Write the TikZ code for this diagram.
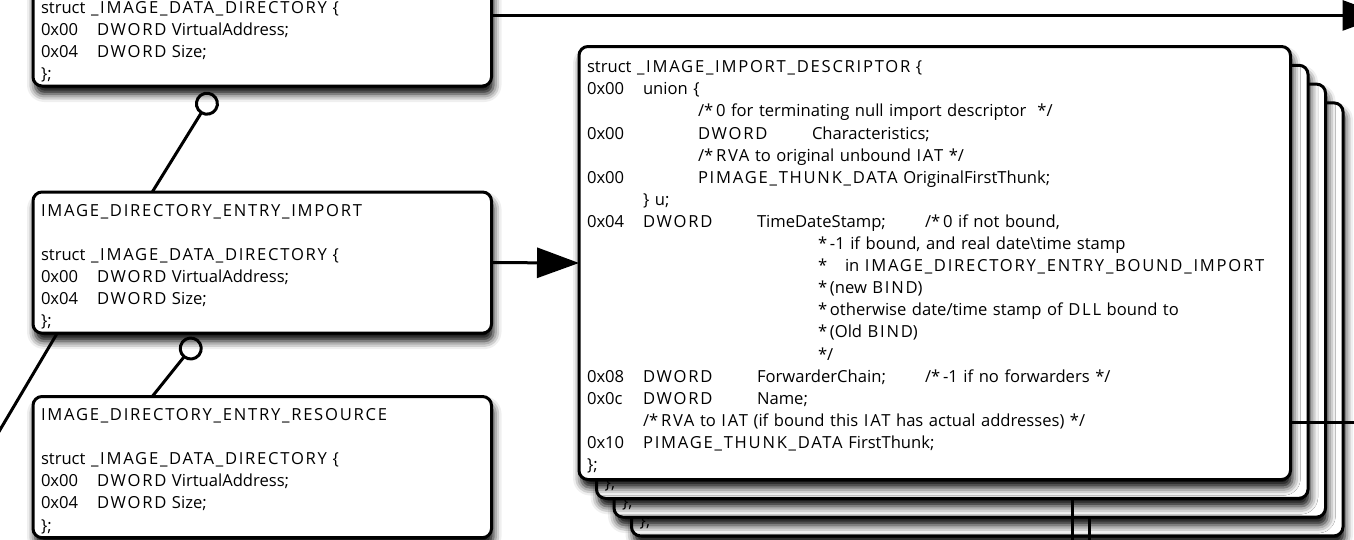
\documentclass[tikz,border=0pt]{standalone}
\usepackage{fontspec}
\setmainfont{Open Sans}
\newfontfamily\capsfont{Open Sans}[LetterSpace=10.5]
\usetikzlibrary{arrows.meta,shadows.blur}

% one column of a struct line
\newcommand{\fld}[2]{\makebox[#1][l]{#2}}
% upper case names are set wide
\newcommand{\K}[1]{{\capsfont #1}}

\tikzset{
  fieldtext/.style={font=\fontsize{16.6}{22.1}\selectfont},
  structbox/.style={draw, line width=3pt, rounded corners=9pt, fill=white, outer sep=0pt,
    inner xsep=8pt, inner ysep=4pt, align=left, anchor=north west, fieldtext,
    blur shadow={shadow xshift=2pt, shadow yshift=-8pt, shadow blur radius=8pt, shadow opacity=100}},
  link/.style={line width=3pt},
  ball/.style={link, -{Circle[open, length=24pt, width=24pt]}},
  bigarrow/.style={link, -{Triangle[length=42pt, width=30pt]}},
}

\begin{document}
\begin{tikzpicture}[x=1pt, y=-1pt]
\useasboundingbox (0,0) rectangle (1354,539);

% copies of the import descriptor, back to front
\foreach \k/\n in {3/copyc, 2/copyb, 1/copya} {
  \node[structbox, minimum width=711.5pt, minimum height=433pt] (\n) at (579+17.5*\k, 46.5+18.8*\k) {};
  \node[fieldtext, anchor=base west, inner sep=0pt] (\n end) at ([shift={(8,-9.5)}]\n.south west) {\};};
}

\node[structbox, text width=695.5pt, minimum height=433pt] (desc) at (579,46.5) {%
\rule{0pt}{20pt}struct \K{\_IMAGE\_IMPORT\_DESCRIPTOR} \{\\
\fld{56pt}{0x00}union \{\\
\hspace*{111pt}/*\,0 for terminating null import descriptor\ \ */\\
\fld{111pt}{0x00}\fld{114pt}{\K{DWORD}}Characteristics;\\
\hspace*{111pt}/*\,\K{RVA} to original unbound \K{IAT} */\\
\fld{111pt}{0x00}\K{PIMAGE\_THUNK\_DATA} OriginalFirstThunk;\\
\hspace*{56pt}\} u;\\
\fld{56pt}{0x04}\fld{114pt}{\K{DWORD}}\fld{168pt}{TimeDateStamp;}/*\,0 if not bound,\\
\hspace*{231pt}*\,-1 if bound, and real date\textbackslash time stamp\\
\hspace*{231pt}\fld{27pt}{*}in \K{IMAGE\_DIRECTORY\_ENTRY\_BOUND\_IMPORT}\\
\hspace*{231pt}*\,(new \K{BIND})\\
\hspace*{231pt}*\,otherwise date/time stamp of \K{DLL} bound to\\
\hspace*{231pt}*\,(Old \K{BIND})\\
\hspace*{231pt}*/\\
\fld{56pt}{0x08}\fld{114pt}{\K{DWORD}}\fld{168pt}{ForwarderChain;}/*\,-1 if no forwarders */\\
\fld{56pt}{0x0c}\fld{114pt}{\K{DWORD}}Name;\\
\hspace*{56pt}/*\,\K{RVA} to \K{IAT} (if bound this \K{IAT} has actual addresses) */\\
\fld{56pt}{0x10}\K{PIMAGE\_THUNK\_DATA} FirstThunk;\\
\};};

\node[structbox, text width=442.5pt, anchor=south west] (dd) at (33,86) {%
\rule{0pt}{20pt}\\
\mbox{}\\
struct \K{\_IMAGE\_DATA\_DIRECTORY} \{\\
\fld{56pt}{0x00}\K{DWORD} VirtualAddress;\\
\fld{56pt}{0x04}\K{DWORD} Size;\\
\};};

\node[structbox, text width=442.5pt] (imp) at (33,192) {%
\rule{0pt}{20pt}\K{IMAGE\_DIRECTORY\_ENTRY\_IMPORT}\\
\mbox{}\\
struct \K{\_IMAGE\_DATA\_DIRECTORY} \{\\
\fld{56pt}{0x00}\K{DWORD} VirtualAddress;\\
\fld{56pt}{0x04}\K{DWORD} Size;\\
\};};

\node[structbox, text width=442.5pt] (res) at (33,396.5) {%
\rule{0pt}{20pt}\K{IMAGE\_DIRECTORY\_ENTRY\_RESOURCE}\\
\mbox{}\\
struct \K{\_IMAGE\_DATA\_DIRECTORY} \{\\
\fld{56pt}{0x00}\K{DWORD} VirtualAddress;\\
\fld{56pt}{0x04}\K{DWORD} Size;\\
\};};

% free ends of the connectors that leave the picture
\coordinate (offtop) at ([xshift=893pt]dd.east);
\coordinate (offleft) at (-80,565);
\coordinate (offright) at ([xshift=90pt, yshift=57.5pt]desc.south east);
\coordinate (downa) at ([xshift=475.5pt, yshift=-60pt]copya.south west);
\coordinate (downb) at ([xshift=475.5pt, yshift=-60pt]copyb.south west);

\draw[bigarrow] (dd.east) -- (offtop);
\draw[bigarrow] (imp.east) -- (desc.west);
\draw[ball] ([xshift=-110pt]imp.north) -- ([shift={(-49,7.5)}]dd.south);
\draw[ball] ([xshift=-110pt]res.north) -- ([shift={(-64,6)}]imp.south);
\draw[link] ([xshift=-205pt]imp.south) -- (offleft);
\draw[link] ([yshift=57.5pt]desc.south east) -- (offright);
\draw[link] ([xshift=475.5pt]copya.south west) -- (downa);
\draw[link] ([xshift=475.5pt]copyb.south west) -- (downb);
\end{tikzpicture}
\end{document}
